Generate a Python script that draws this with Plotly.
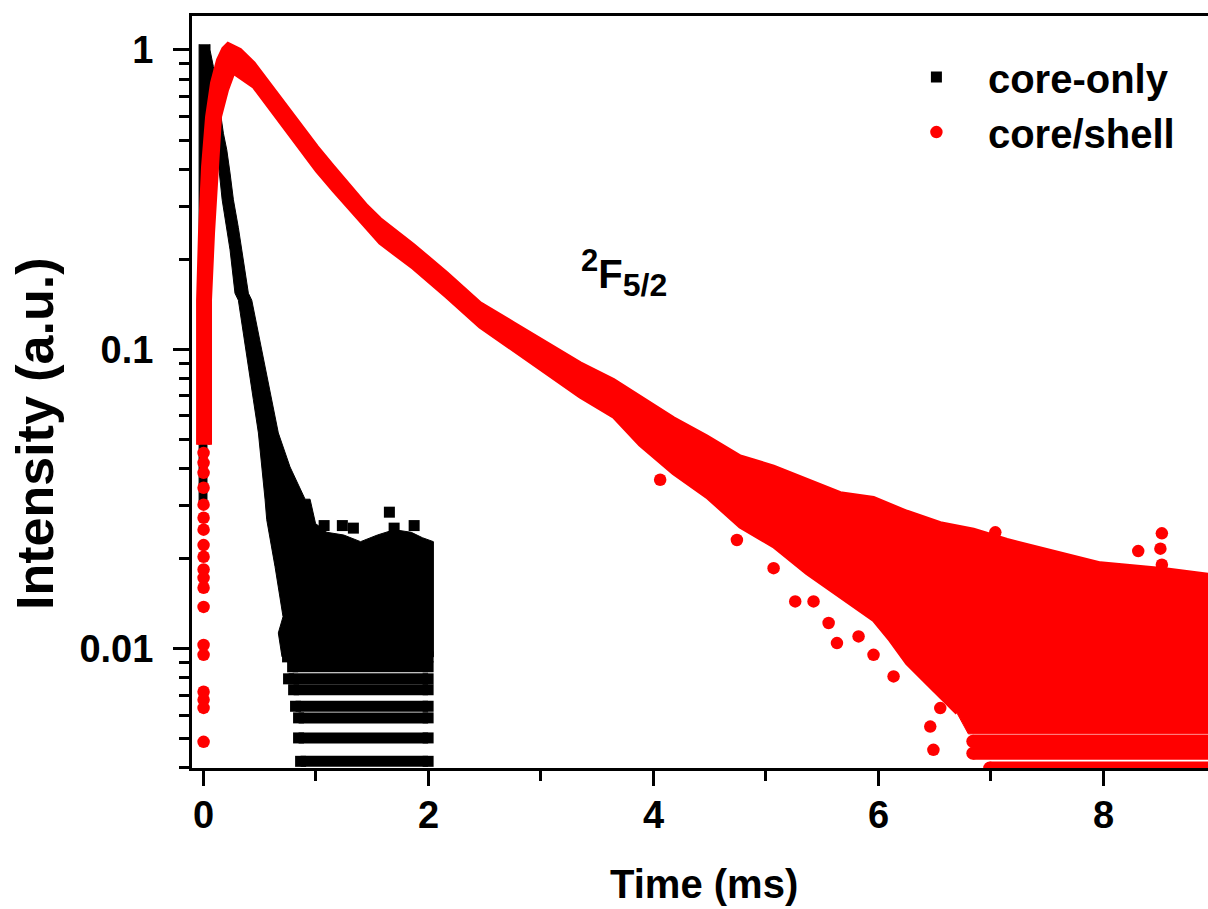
import plotly.graph_objects as go

# ---------------- data ----------------
# core-only (black squares): visual outline of the dense band of points
core_right_t = [0.062, 0.062, 0.092, 0.121, 0.151, 0.181, 0.211, 0.240, 0.270, 0.314, 0.344,
                0.373, 0.403, 0.433, 0.492, 0.551, 0.611, 0.669, 0.773, 0.907, 0.951, 1.00,
                1.10, 1.25, 1.40, 1.55, 1.70, 1.85, 1.95, 2.047, 2.047]
core_right_v = [1.045, 1.0, 0.880, 0.755, 0.631, 0.527, 0.464, 0.388, 0.316, 0.255, 0.215,
                0.180, 0.154, 0.146, 0.1135, 0.0873, 0.068, 0.0526, 0.0405, 0.0316, 0.0316, 0.0262,
                0.0245, 0.0240, 0.0228, 0.0240, 0.0250, 0.0245, 0.0235, 0.0228, 0.0094]
core_left_t = [0.702, 0.669, 0.711, 0.640, 0.566, 0.551, 0.522, 0.492, 0.447, 0.403, 0.358,
               0.314, 0.284, 0.240, 0.170, 0.124, 0.060, 0.035, 0.035, -0.035, -0.035]
core_left_v = [0.0094, 0.0113, 0.0128, 0.0188, 0.027, 0.0316, 0.0405, 0.0526, 0.068, 0.0873, 0.1135,
               0.146, 0.154, 0.215, 0.316, 0.464, 0.60, 0.60, 0.030, 0.030, 1.045]
# quantised noise-floor levels of core-only and the time where each level starts (ends at 2.0 ms)
core_floor_levels = [0.00421, 0.00504, 0.00588, 0.00643, 0.00730, 0.00794, 0.00871, 0.00940]
core_floor_start = [0.867, 0.849, 0.849, 0.822, 0.805, 0.760, 0.796, 0.751]
core_floor_end = 2.0
# isolated core-only points
core_out_t = [1.076, 1.238, 1.336, 1.656, 1.698, 1.876]
core_out_v = [0.0258, 0.0258, 0.0253, 0.0286, 0.0253, 0.0258]

# core/shell (red circles): upper and lower outline of the dense band
shell_upper_t = [-0.044, -0.044, -0.027, 0.0, 0.036, 0.080, 0.133, 0.180, 0.222, 0.33, 0.45,
                 0.566, 0.714, 0.862, 1.011, 1.158, 1.307, 1.455, 1.573, 1.869, 2.166, 2.462,
                 2.758, 3.054, 3.351, 3.647, 3.884, 4.18, 4.477, 4.773, 5.07, 5.366, 5.662,
                 5.958, 6.255, 6.551, 6.847, 7.144, 7.44, 7.973, 8.566, 8.93, 9.1]
shell_upper_v = [0.048, 0.146, 0.245, 0.407, 0.598, 0.776, 0.926, 1.01, 1.047, 1.0, 0.905,
                 0.794, 0.672, 0.562, 0.4755, 0.4077, 0.352, 0.3013, 0.2726, 0.2233, 0.1796, 0.1426,
                 0.1224, 0.1049, 0.0899, 0.0791, 0.0696, 0.0589, 0.0512, 0.0439, 0.0406, 0.0367, 0.0331,
                 0.0319, 0.0287, 0.0263, 0.0250, 0.0231, 0.0217, 0.0193, 0.0184, 0.01766, 0.0175]
shell_lower_t = [0.062, 0.062, 0.089, 0.124, 0.151, 0.213, 0.27, 0.45, 0.566, 0.714, 0.862,
                 1.011, 1.158, 1.307, 1.455, 1.573, 1.869, 2.166, 2.462, 2.758, 3.054, 3.351,
                 3.647, 3.884, 4.18, 4.477, 4.773, 5.07, 5.366, 5.662, 5.958, 6.106, 6.255,
                 6.403, 6.551, 6.70, 6.80, 9.1]
shell_lower_v = [0.048, 0.146, 0.245, 0.407, 0.598, 0.735, 0.84, 0.755, 0.660, 0.555, 0.465,
                 0.395, 0.340, 0.294, 0.255, 0.2269, 0.187, 0.150, 0.1192, 0.0996, 0.0833, 0.0696,
                 0.0597, 0.048, 0.0386, 0.0322, 0.0256, 0.0220, 0.0179, 0.01495, 0.0125, 0.0107, 0.00896,
                 0.00788, 0.00693, 0.0061, 0.00520, 0.00520]
# quantised noise-floor levels of core/shell (from the start time to the end of the record)
shell_floor_levels = [0.00491, 0.00448, 0.00400]
shell_floor_start = [6.84, 6.84, 6.99]
shell_floor_end = 9.1
# isolated core/shell points
shell_out_t = [0.005] * 19 + [4.062, 4.744, 5.07, 5.262, 5.425, 5.559, 5.633, 5.825, 5.958,
                              6.136, 6.551, 6.462, 6.49, 7.04, 8.31, 8.52, 8.507, 8.52]
shell_out_v = [0.0451, 0.0418, 0.0387, 0.0345, 0.0303, 0.0274, 0.0250, 0.0222, 0.0203, 0.0184,
               0.01726, 0.0160, 0.0138, 0.0103, 0.00955, 0.00719, 0.00676, 0.00635, 0.00489,
               0.0367, 0.0231, 0.0186, 0.0144, 0.0144, 0.0122, 0.01045, 0.011, 0.00955,
               0.00809, 0.00634, 0.0055, 0.0046, 0.0245, 0.0212, 0.0243, 0.0216, 0.0191]

x_tick_vals = [0, 2, 4, 6, 8]
x_tick_text = ["0", "2", "4", "6", "8"]
y_tick_vals = [0.01, 0.1, 1]
y_tick_text = ["0.01", "0.1", "1"]

# ---------------- figure ----------------
FONT = "Liberation Sans, Arial, sans-serif"
BLACK = "#000000"
RED = "#ff0000"

fig = go.Figure()


def floor_segments(levels, starts, end):
    xs, ys = [], []
    for lev, st in zip(levels, starts):
        xs += [st, end, None]
        ys += [lev, lev, None]
    return xs, ys


# core-only dense band
fig.add_trace(go.Scatter(
    x=core_right_t + core_left_t, y=core_right_v + core_left_v,
    mode="lines", fill="toself", fillcolor=BLACK, line=dict(color=BLACK, width=1),
    showlegend=False, hoverinfo="skip"))

# core-only quantised floor levels
bx, by = floor_segments(core_floor_levels, core_floor_start, core_floor_end)
fig.add_trace(go.Scatter(
    x=bx, y=by, mode="lines+markers",
    line=dict(color=BLACK, width=11),
    marker=dict(symbol="square", size=11, color=BLACK),
    showlegend=False, hoverinfo="skip"))

fig.add_trace(go.Scatter(
    x=core_out_t, y=core_out_v, mode="markers", name="core-only",
    marker=dict(symbol="square", size=11, color=BLACK)))

# core/shell dense band
fig.add_trace(go.Scatter(
    x=shell_upper_t + shell_lower_t[::-1], y=shell_upper_v + shell_lower_v[::-1],
    mode="lines", fill="toself", fillcolor=RED, line=dict(color=RED, width=1),
    showlegend=False, hoverinfo="skip"))

# core/shell quantised floor levels
rx, ry = floor_segments(shell_floor_levels, shell_floor_start, shell_floor_end)
fig.add_trace(go.Scatter(
    x=rx, y=ry, mode="lines+markers",
    line=dict(color=RED, width=13),
    marker=dict(symbol="circle", size=13, color=RED),
    showlegend=False, hoverinfo="skip"))

fig.add_trace(go.Scatter(
    x=shell_out_t, y=shell_out_v, mode="markers", name="core/shell",
    marker=dict(symbol="circle", size=12.5, color=RED)))

# thicken the core/shell band outline a little (same outline, drawn as a stroke)
fig.add_trace(go.Scatter(
    x=shell_upper_t[:-1], y=shell_upper_v[:-1], mode="lines",
    line=dict(color=RED, width=4), showlegend=False, hoverinfo="skip"))
fig.add_trace(go.Scatter(
    x=shell_lower_t[:-2], y=shell_lower_v[:-2], mode="lines",
    line=dict(color=RED, width=4), showlegend=False, hoverinfo="skip"))

y_minor = [m * 10 ** e for e in (-3, -2, -1) for m in range(2, 10)]

PLOT_L, PLOT_R, PLOT_T, PLOT_B = 192, 1208, 16, 768


def px_to_paper_y(py):
    return (PLOT_B - py) / (PLOT_B - PLOT_T)


def px_to_paper_x(px):
    return (px - PLOT_L) / (PLOT_R - PLOT_L)


annotations = [
    dict(text='<sup><span style="font-size:31px">2</span></sup>F'
              '<sub><span style="font-size:32px">5/2</span></sub>',
         x=3.742, y=-0.745, xref="x", yref="y",
         showarrow=False, font=dict(family=FONT, size=40, weight="bold", color=BLACK)),
    dict(text="Intensity (a.u.)", textangle=-90, showarrow=False,
         xref="paper", yref="paper", x=px_to_paper_x(35), y=px_to_paper_y(434),
         xanchor="center", yanchor="middle",
         font=dict(family=FONT, size=52, weight="bold", color=BLACK)),
    dict(text="Time (ms)", showarrow=False, xref="paper", yref="paper",
         x=px_to_paper_x(704), y=px_to_paper_y(884), xanchor="center", yanchor="middle",
         font=dict(family=FONT, size=40, weight="bold", color=BLACK)),
]
for v, s in zip(x_tick_vals, x_tick_text):
    annotations.append(dict(text=s, x=v, y=px_to_paper_y(815), xref="x", yref="paper",
                            showarrow=False, xanchor="center", yanchor="middle",
                            font=dict(family=FONT, size=38, weight="bold", color=BLACK)))

fig.update_layout(
    width=1208, height=909,
    margin=dict(l=PLOT_L, r=1208 - PLOT_R, t=PLOT_T, b=909 - PLOT_B, pad=0),
    paper_bgcolor="white", plot_bgcolor="white",
    font=dict(family=FONT, color=BLACK),
    showlegend=True,
    legend=dict(x=0.682, y=0.962, xanchor="left", yanchor="top",
                bgcolor="rgba(0,0,0,0)", itemwidth=93,
                font=dict(family=FONT, size=40, weight="bold", color=BLACK)),
    xaxis=dict(
        range=[-0.098, 8.93], showgrid=False, zeroline=False,
        showline=True, linewidth=3, linecolor=BLACK, mirror=True,
        ticks="outside", ticklen=15, tickwidth=3, tickcolor=BLACK,
        tickmode="array", tickvals=x_tick_vals, ticktext=x_tick_text,
        showticklabels=False,
        minor=dict(tickmode="array", tickvals=[1, 3, 5, 7], ticks="outside",
                   ticklen=10, tickwidth=3, tickcolor=BLACK, showgrid=False),
    ),
    yaxis=dict(
        type="log", range=[-2.398, 0.1135], showgrid=False, zeroline=False,
        showline=True, linewidth=3, linecolor=BLACK, mirror=False,
        ticks="outside", ticklen=16, tickwidth=3, tickcolor=BLACK,
        tickmode="array", tickvals=y_tick_vals, ticktext=y_tick_text,
        tickfont=dict(family=FONT, size=38, weight="bold", color=BLACK),
        ticklabelstandoff=12,
        minor=dict(tickmode="array", tickvals=y_minor, ticks="outside",
                   ticklen=10, tickwidth=3, tickcolor=BLACK, showgrid=False),
    ),
    annotations=annotations,
)

fig.write_html("out.html")
